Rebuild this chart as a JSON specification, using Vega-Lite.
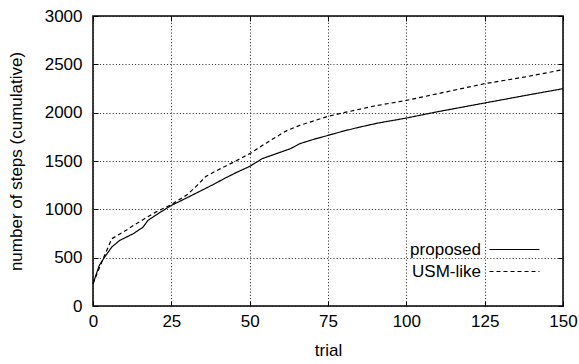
{
  "$schema": "https://vega.github.io/schema/vega-lite/v6.json",
  "width": 470,
  "height": 290,
  "autosize": {"type": "none"},
  "padding": {"left": 93, "top": 16, "right": 16, "bottom": 58},
  "background": "white",
  "config": {
    "view": {"stroke": "black", "strokeWidth": 1.5},
    "font": "Liberation Sans",
    "axis": {
      "domain": false,
      "labelFont": "Liberation Sans",
      "titleFont": "Liberation Sans",
      "labelFontSize": 17,
      "titleFontSize": 17,
      "titleFontWeight": "normal",
      "labelColor": "black",
      "titleColor": "black",
      "tickColor": "black",
      "tickSize": -5,
      "labelFlush": false,
      "labelOverlap": false,
      "gridColor": "#222",
      "gridDash": [1, 2.2],
      "gridWidth": 1
    }
  },
  "data": {
    "values": [
      {"trial": 0, "steps": 230, "method": "proposed"},
      {"trial": 2, "steps": 420, "method": "proposed"},
      {"trial": 3.7, "steps": 505, "method": "proposed"},
      {"trial": 6, "steps": 610, "method": "proposed"},
      {"trial": 8.5, "steps": 678, "method": "proposed"},
      {"trial": 12.8, "steps": 747, "method": "proposed"},
      {"trial": 16, "steps": 816, "method": "proposed"},
      {"trial": 17.5, "steps": 885, "method": "proposed"},
      {"trial": 21, "steps": 960, "method": "proposed"},
      {"trial": 25, "steps": 1040, "method": "proposed"},
      {"trial": 30, "steps": 1120, "method": "proposed"},
      {"trial": 34, "steps": 1185, "method": "proposed"},
      {"trial": 38, "steps": 1250, "method": "proposed"},
      {"trial": 42, "steps": 1320, "method": "proposed"},
      {"trial": 46, "steps": 1385, "method": "proposed"},
      {"trial": 50, "steps": 1444, "method": "proposed"},
      {"trial": 54, "steps": 1524, "method": "proposed"},
      {"trial": 58, "steps": 1570, "method": "proposed"},
      {"trial": 63, "steps": 1627, "method": "proposed"},
      {"trial": 66, "steps": 1679, "method": "proposed"},
      {"trial": 70, "steps": 1720, "method": "proposed"},
      {"trial": 75, "steps": 1765, "method": "proposed"},
      {"trial": 80, "steps": 1810, "method": "proposed"},
      {"trial": 85, "steps": 1850, "method": "proposed"},
      {"trial": 91, "steps": 1893, "method": "proposed"},
      {"trial": 100, "steps": 1944, "method": "proposed"},
      {"trial": 110, "steps": 2010, "method": "proposed"},
      {"trial": 125, "steps": 2100, "method": "proposed"},
      {"trial": 140, "steps": 2190, "method": "proposed"},
      {"trial": 150, "steps": 2248, "method": "proposed"},
      {"trial": 0, "steps": 230, "method": "USM-like"},
      {"trial": 3, "steps": 471, "method": "USM-like"},
      {"trial": 6, "steps": 696, "method": "USM-like"},
      {"trial": 9.6, "steps": 764, "method": "USM-like"},
      {"trial": 13.8, "steps": 851, "method": "USM-like"},
      {"trial": 20, "steps": 971, "method": "USM-like"},
      {"trial": 25, "steps": 1050, "method": "USM-like"},
      {"trial": 30, "steps": 1150, "method": "USM-like"},
      {"trial": 33, "steps": 1240, "method": "USM-like"},
      {"trial": 36, "steps": 1340, "method": "USM-like"},
      {"trial": 40, "steps": 1410, "method": "USM-like"},
      {"trial": 45, "steps": 1490, "method": "USM-like"},
      {"trial": 50, "steps": 1576, "method": "USM-like"},
      {"trial": 55, "steps": 1680, "method": "USM-like"},
      {"trial": 60, "steps": 1780, "method": "USM-like"},
      {"trial": 62, "steps": 1817, "method": "USM-like"},
      {"trial": 66, "steps": 1869, "method": "USM-like"},
      {"trial": 70, "steps": 1910, "method": "USM-like"},
      {"trial": 75, "steps": 1962, "method": "USM-like"},
      {"trial": 80, "steps": 2000, "method": "USM-like"},
      {"trial": 90, "steps": 2070, "method": "USM-like"},
      {"trial": 100, "steps": 2127, "method": "USM-like"},
      {"trial": 112, "steps": 2210, "method": "USM-like"},
      {"trial": 125, "steps": 2300, "method": "USM-like"},
      {"trial": 138, "steps": 2370, "method": "USM-like"},
      {"trial": 150, "steps": 2445, "method": "USM-like"}
    ]
  },
  "layer": [
    {
      "mark": {"type": "line", "color": "black", "strokeWidth": 1.2},
      "encoding": {
        "x": {
          "field": "trial", "type": "quantitative",
          "scale": {"domain": [0, 150], "nice": false},
          "axis": {"orient": "bottom", "values": [0, 25, 50, 75, 100, 125, 150], "format": "d", "title": "trial", "labelPadding": 12, "titlePadding": 13, "grid": true}
        },
        "y": {
          "field": "steps", "type": "quantitative",
          "scale": {"domain": [0, 3000], "nice": false},
          "axis": {"orient": "left", "values": [0, 500, 1000, 1500, 2000, 2500, 3000], "format": "d", "title": "number of steps (cumulative)", "labelPadding": 16, "titleX": -77, "titleBaseline": "middle", "titleAnchor": "middle", "grid": true}
        },
        "strokeDash": {
          "field": "method", "type": "nominal",
          "scale": {"domain": ["proposed", "USM-like"], "range": [[1, 0], [4, 3]]},
          "legend": {
            "title": null,
            "orient": "none",
            "legendX": 413,
            "legendY": 225,
            "symbolType": "M-5,0H5",
            "symbolSize": 100,
            "symbolStrokeColor": "black",
            "symbolFillColor": "transparent",
            "symbolStrokeWidth": 1.2,
            "labelAlign": "right",
            "labelOffset": -42,
            "labelFontSize": 17,
            "labelFont": "Liberation Sans",
            "labelColor": "black",
            "rowPadding": 4
          }
        }
      }
    },
    {
      "mark": {"type": "line", "opacity": 0},
      "encoding": {
        "x": {
          "field": "trial", "type": "quantitative",
          "axis": {"orient": "top", "values": [0, 25, 50, 75, 100, 125, 150], "labels": false, "title": null, "grid": false}
        },
        "y": {
          "field": "steps", "type": "quantitative",
          "axis": {"orient": "right", "values": [0, 500, 1000, 1500, 2000, 2500, 3000], "labels": false, "title": null, "grid": false}
        }
      }
    }
  ],
  "resolve": {"axis": {"x": "independent", "y": "independent"}}
}
